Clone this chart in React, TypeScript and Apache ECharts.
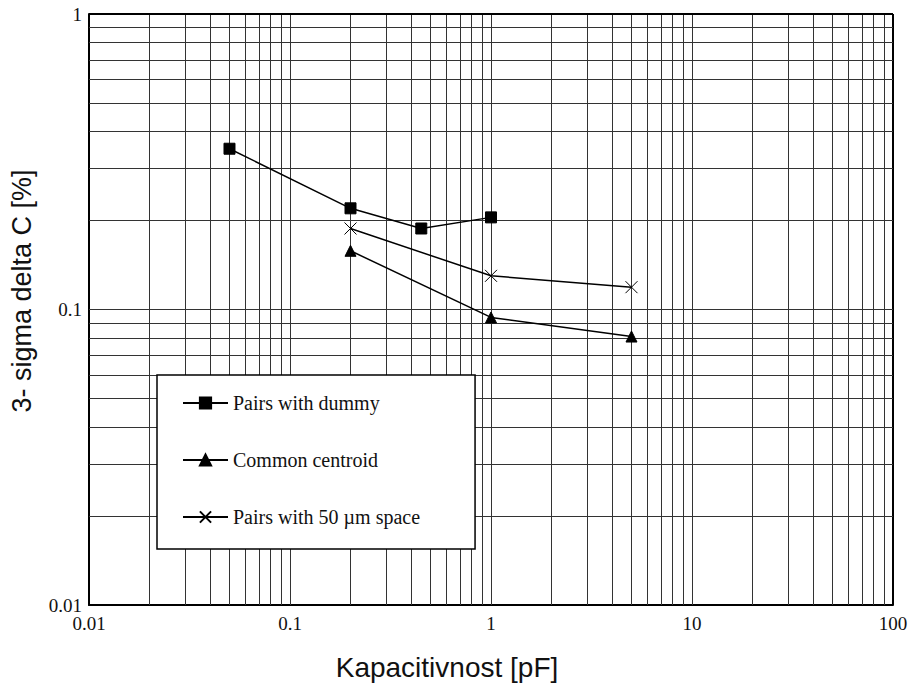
import React, { useEffect, useRef } from "react";
import * as echarts from "echarts";

const seriesNames = ["Pairs with dummy", "Common centroid", "Pairs with 50 µm space"];
const pairsWithDummy: [number, number][] = [
  [0.05, 0.35],
  [0.2, 0.22],
  [0.45, 0.188],
  [1, 0.205],
];
const commonCentroid: [number, number][] = [
  [0.2, 0.158],
  [1, 0.094],
  [5, 0.081],
];
const pairsWith50um: [number, number][] = [
  [0.2, 0.188],
  [1, 0.13],
  [5, 0.119],
];
const xTickLabels = ["0.01", "0.1", "1", "10", "100"];
const yTickLabels = ["0.01", "0.1", "1"];
const xDecades = [0.01, 0.1, 1, 10];
const yDecades = [0.01, 0.1];
const gridMultipliers = [1, 2, 3, 4, 5, 6, 7, 8, 9];
const xTitle = "Kapacitivnost [pF]";
const yTitle = "3- sigma delta C [%]";

const xMin = 0.01, xMax = 100, yMin = 0.01, yMax = 1;

function gridValues(decades: number[]) {
  const out: number[] = [];
  decades.forEach((d) => gridMultipliers.forEach((m) => out.push(+(d * m).toPrecision(3))));
  return out;
}

export default function App() {
  const ref = useRef<HTMLDivElement>(null);
  useEffect(() => {
    if (!ref.current) return;
    const chart = echarts.init(ref.current, undefined, { renderer: "svg" });
    const serif = "Liberation Serif, Times New Roman, serif";
    const sans = "Liberation Sans, Arial, sans-serif";
    const gridColor = "#333";
    const thin = { width: 1, color: gridColor, type: "solid" };
    const thick = { width: 2, color: "#000", type: "solid" };
    const xLines: any[] = gridValues(xDecades).filter((v) => v > xMin).map((v) => ({ xAxis: v, lineStyle: thin }));
    xLines.push({ xAxis: xMax, lineStyle: thick });
    const yLines: any[] = gridValues(yDecades).filter((v) => v > yMin).map((v) => ({ yAxis: v, lineStyle: thin }));
    yLines.push({ yAxis: yMax, lineStyle: thick });

    const labelFor = (labels: string[], start: number) => (v: number) => {
      const idx = Math.round(Math.log10(v)) - start;
      return labels[idx] ?? "";
    };

    const lineSeries = (name: string, data: [number, number][], symbol: string, size: number) => ({
      name,
      type: "line",
      data,
      symbol,
      symbolSize: size,
      showAllSymbol: true,
      z: 5,
      lineStyle: { color: "#000", width: 1.5 },
      itemStyle: { color: "#000", borderColor: "#000", borderWidth: 1 },
    });

    chart.setOption({
      animation: false,
      backgroundColor: "#fff",
      grid: { left: 89, right: 19, top: 14, bottom: 81, containLabel: false },
      xAxis: {
        type: "log",
        logBase: 10,
        min: xMin,
        max: xMax,
        axisLine: { show: true, lineStyle: { color: "#000", width: 2 } },
        axisTick: { show: false },
        splitLine: { show: false },
        axisLabel: {
          margin: 9,
          fontFamily: serif,
          fontSize: 19,
          color: "#111",
          formatter: labelFor(xTickLabels, -2),
        },
      },
      yAxis: {
        type: "log",
        logBase: 10,
        min: yMin,
        max: yMax,
        axisLine: { show: true, lineStyle: { color: "#000", width: 2 } },
        axisTick: { show: false },
        splitLine: { show: false },
        axisLabel: {
          margin: 7,
          fontFamily: serif,
          fontSize: 19,
          color: "#111",
          formatter: labelFor(yTickLabels, -2),
        },
      },
      legend: {
        data: seriesNames,
        orient: "vertical",
        left: 157,
        top: 375,
        z: 10,
        itemWidth: 45,
        itemHeight: 14,
        itemGap: 37,
        padding: [18, 55, 22, 25],
        backgroundColor: "#fff",
        borderColor: "#000",
        borderWidth: 1.5,
        borderRadius: 0,
        textStyle: { fontFamily: serif, fontSize: 20, lineHeight: 20, color: "#111" },
        selectedMode: false,
      },
      graphic: [
        {
          type: "text",
          x: 447,
          y: 667,
          style: { text: xTitle, font: `28px ${sans}`, fill: "#111", align: "center", verticalAlign: "middle" },
        },
        {
          type: "text",
          x: 22,
          y: 291,
          rotation: Math.PI / 2,
          style: { text: yTitle, font: `27px ${sans}`, fill: "#111", align: "center", verticalAlign: "middle" },
        },
      ],
      series: [
        {
          name: "grid",
          type: "line",
          data: [],
          z: 1,
          silent: true,
          markLine: {
            silent: true,
            z: 1,
            symbol: "none",
            label: { show: false },
            lineStyle: { type: "solid", color: gridColor, width: 1 },
            animation: false,
            data: [...xLines, ...yLines],
          },
        },
        lineSeries(seriesNames[0], pairsWithDummy, "rect", 11),
        lineSeries(seriesNames[1], commonCentroid, "triangle", 11),
        lineSeries(seriesNames[2], pairsWith50um, "path://M0,0L10,10M10,0L0,10", 12),
      ],
    });
    return () => chart.dispose();
  }, []);
  return <div ref={ref} style={{ position: "absolute", left: 0, top: 0, width: 912, height: 686 }} />;
}
